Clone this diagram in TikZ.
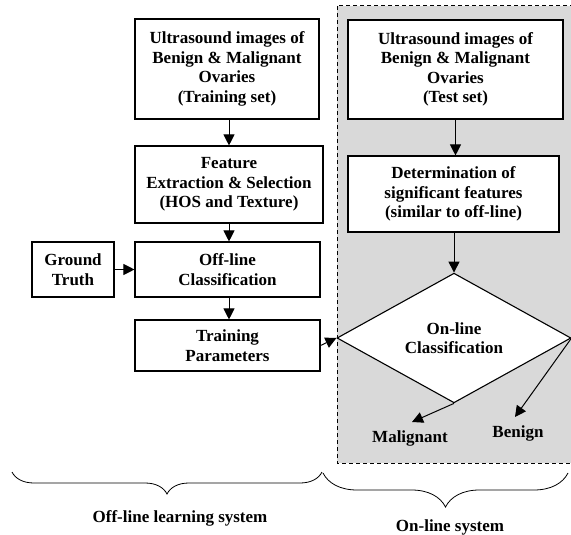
\documentclass[tikz,border=0pt]{standalone}
\usepackage{fontspec}
\setmainfont{Liberation Serif}
\usetikzlibrary{arrows.meta}
\usetikzlibrary{shapes,decorations.pathreplacing}
\definecolor{panelgray}{RGB}{217,217,217}
\tikzset{
blk/.style={draw, fill=white, line width=1.1pt, align=center, inner sep=1pt,
  font=\bfseries\fontsize{17}{19.5}\selectfont},
lbl/.style={align=center, inner sep=1pt, font=\bfseries\fontsize{17}{19.5}\selectfont},
arr/.style={line width=1pt, -{Triangle[length=11pt,width=11pt]}},
}
\begin{document}
\begin{tikzpicture}[x=1pt,y=-1pt]
\useasboundingbox (0,0) rectangle (571,535);
% on-line panel
\fill[panelgray] (337,6) rectangle (576,463);
\draw[dashed, line width=1pt, dash pattern=on 4pt off 3pt] (337,6) rectangle (576,463);
% off-line part
\node[blk, minimum width=184pt, minimum height=100pt] (train) at (227,69)
  {Ultrasound images of\\Benign \& Malignant\\Ovaries\\(Training set)};
\node[blk, minimum width=188pt, minimum height=77pt] (feat) at (229,184.5)
  {Feature\\Extraction \& Selection\\(HOS and Texture)};
\node[blk, minimum width=185pt, minimum height=55pt] (offcls) at (227.5,269.5)
  {Off-line\\Classification};
\node[blk, minimum width=82pt, minimum height=55pt] (truth) at (73,269.5)
  {Ground\\Truth};
\node[blk, minimum width=185pt, minimum height=51pt] (param) at (227.5,345.5)
  {Training\\Parameters};
% on-line part
\node[blk, minimum width=215pt, minimum height=99pt] (test) at (455.5,69.5)
  {Ultrasound images of\\Benign \& Malignant\\Ovaries\\(Test set)};
\node[blk, minimum width=211pt, minimum height=76pt] (det) at (453.5,194)
  {Determination of\\significant features\\(similar to off-line)};
\node[blk, diamond, inner sep=0pt, minimum width=234pt, minimum height=114pt] (oncls) at (454,338)
  {On-line\\Classification};
\node[lbl] (mal) at (410,438) {Malignant};
\node[lbl] (ben) at (518,433) {Benign};
\coordinate (malend) at (412,422);
\coordinate (benend) at (515,417);
% connectors
\draw[arr] (train.south -| feat.north) -- (feat.north);
\draw[arr] (feat.south) -- (feat.south |- offcls.north);
\draw[arr] (feat.south |- offcls.south) -- (feat.south |- param.north);
\draw[arr] (truth.east) -- (offcls.west);
\draw[arr] (param.east) -- (oncls.west);
\draw[arr] (test.south) -- (test.south |- det.north);
\draw[arr] (oncls.north |- det.south) -- (oncls.north);
\draw[arr] (oncls.south) -- (malend);
\draw[arr] (oncls.east) -- (benend);
% braces
\draw[line width=0.8pt, decorate, decoration={brace, mirror, amplitude=22pt}] (12,472) -- (322,472);
\draw[line width=0.8pt, decorate, decoration={brace, mirror, amplitude=34pt}] (323,473) -- (568,473);
\node[lbl] (offlbl) at (180,518) {Off-line learning system};
\node[lbl] (onlbl) at (450,527) {On-line system};
\end{tikzpicture}
\end{document}
